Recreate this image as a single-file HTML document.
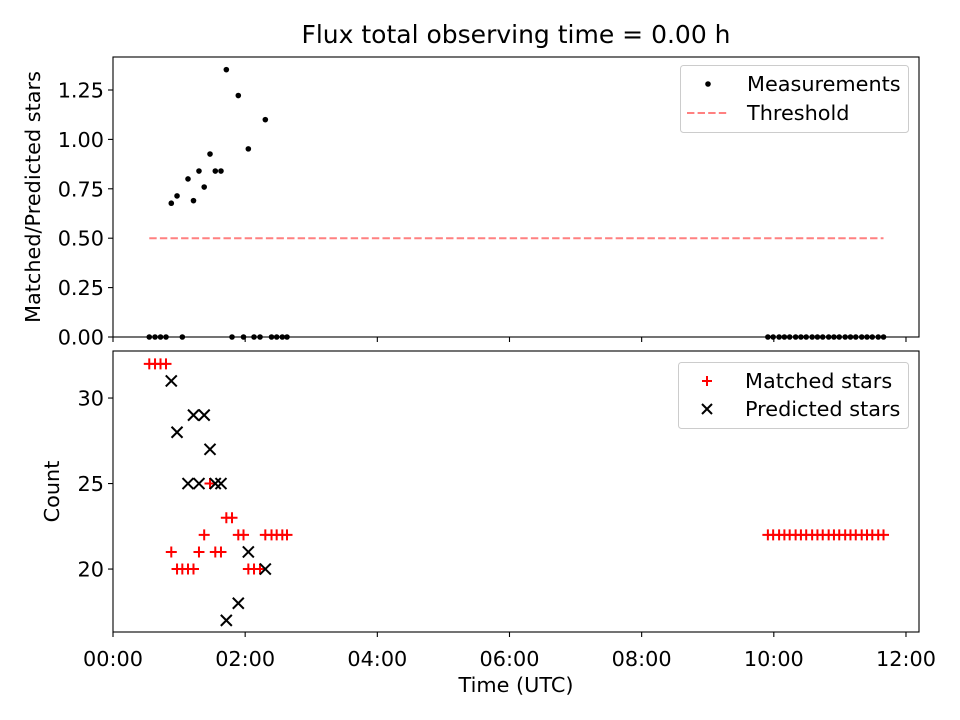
<!DOCTYPE html>
<html><head><meta charset="utf-8"><style>
body{margin:0;background:#fff}
svg{font-family:"DejaVu Sans","Liberation Sans",sans-serif;display:block}
</style></head><body>
<svg id="chart" width="960" height="720" viewBox="0 0 960 720">
<rect width="960" height="720" fill="#fff"/>
<text x="516" y="43" font-size="25" text-anchor="middle">Flux total observing time = 0.00 h</text>
<g id="topAxes"></g><g id="botAxes"></g>
</svg>
<script>
const times=[0.549,0.636,0.719,0.802,0.882,0.969,1.049,1.135,1.218,1.301,1.380,1.468,1.548,1.634,1.715,1.801,1.896,1.975,2.048,2.134,2.225,2.305,2.399,2.477,2.562,2.633,
9.91,9.99,10.08,10.16,10.24,10.33,10.41,10.49,10.58,10.66,10.74,10.83,10.91,10.99,11.08,11.16,11.24,11.33,11.41,11.49,11.58,11.66];
const matched=[32,32,32,32,21,20,20,20,20,21,22,25,21,21,23,23,22,22,20,20,20,22,22,22,22,22,
22,22,22,22,22,22,22,22,22,22,22,22,22,22,22,22,22,22,22,22,22,22];
const predicted=[null,null,null,null,31,28,null,25,29,25,29,27,25,25,17,null,18,null,21,null,null,20,null,null,null,null,
null,null,null,null,null,null,null,null,null,null,null,null,null,null,null,null,null,null,null,null,null,null];
const ratio=[0,0,0,0,0.677,0.714,0,0.80,0.69,0.84,0.759,0.926,0.84,0.84,1.353,0,1.222,0,0.952,0,0,1.10,0,0,0,0,
0,0,0,0,0,0,0,0,0,0,0,0,0,0,0,0,0,0,0,0,0,0];
const threshold=0.5;
const xTicks=[0,2,4,6,8,10,12];
const xTickLabels=["00:00","02:00","04:00","06:00","08:00","10:00","12:00"];
const topYTicks=[0,0.25,0.5,0.75,1.0,1.25];
const topYTickLabels=["0.00","0.25","0.50","0.75","1.00","1.25"];
const botYTicks=[20,25,30];
const botYTickLabels=["20","25","30"];

const NS="http://www.w3.org/2000/svg";
const FS=20.8;
const L=113,R=919;
const X=h=>L+(h-0)/(12.197-0)*(R-L);
const TT=57,TB=337,BT=351,BB=632;
const YT=v=>TB-(v-0)/(1.417-0)*(TB-TT);
const YB=v=>BB-(v-16.32)/(32.75-16.32)*(BB-BT);
function mk(tag,attrs,parent){const e=document.createElementNS(NS,tag);for(const k in attrs)e.setAttribute(k,attrs[k]);parent.appendChild(e);return e;}
const topG=document.getElementById('topAxes'),botG=document.getElementById('botAxes');

let tl=mk('line',{x1:X(times[0]),x2:X(times[times.length-1]),y1:YT(threshold),y2:YT(threshold),stroke:'#ff8080','stroke-width':2,'stroke-dasharray':'7.4,3.2'},topG);


times.forEach((t,i)=>{
 const c=mk('circle',{cx:X(t),cy:YT(ratio[i]),r:2.8,fill:'#000'},topG);
 
 
});
function plus(g,x,y,s){return mk('path',{d:`M${x-s} ${y}H${x+s}M${x} ${y-s}V${y+s}`,stroke:'#f00','stroke-width':2,fill:'none'},g);}
function cross(g,x,y,s){return mk('path',{d:`M${x-s} ${y-s}L${x+s} ${y+s}M${x-s} ${y+s}L${x+s} ${y-s}`,stroke:'#000','stroke-width':2,fill:'none'},g);}
times.forEach((t,i)=>{
 const p=plus(botG,X(t),YB(matched[i]),5.5);
 
 
});
times.forEach((t,i)=>{
 if(predicted[i]==null)return;
 const p=cross(botG,X(t),YB(predicted[i]),5.5);
 
 
});
function frame(g,y0,y1,name){const r=mk('rect',{x:L,y:y0,width:R-L,height:y1-y0,fill:'none',stroke:'#000','stroke-width':1.1},g);}
frame(topG,TT,TB,'top-axes-frame');frame(botG,BT,BB,'bottom-axes-frame');
xTicks.forEach((v,i)=>{
 mk('line',{x1:X(v),x2:X(v),y1:TB,y2:TB+5,stroke:'#000','stroke-width':1.1},topG);
 mk('line',{x1:X(v),x2:X(v),y1:BB,y2:BB+5,stroke:'#000','stroke-width':1.1},botG);
 const t=mk('text',{x:X(v),y:BB+34,'font-size':FS,'text-anchor':'middle'},botG);t.textContent=xTickLabels[i];
 
 
});
topYTicks.forEach((v,i)=>{
 mk('line',{x1:L-5,x2:L,y1:YT(v),y2:YT(v),stroke:'#000','stroke-width':1.1},topG);
 const t=mk('text',{x:L-9,y:YT(v)+7.5,'font-size':FS,'text-anchor':'end'},topG);t.textContent=topYTickLabels[i];
 
 
});
botYTicks.forEach((v,i)=>{
 mk('line',{x1:L-5,x2:L,y1:YB(v),y2:YB(v),stroke:'#000','stroke-width':1.1},botG);
 const t=mk('text',{x:L-9,y:YB(v)+7.5,'font-size':FS,'text-anchor':'end'},botG);t.textContent=botYTickLabels[i];
 
 
});
let a=mk('text',{x:516,y:692,'font-size':FS,'text-anchor':'middle'},botG);a.textContent='Time (UTC)';


a=mk('text',{x:0,y:0,'font-size':FS,'text-anchor':'middle',transform:`translate(40,${(TT+TB)/2}) rotate(-90)`},topG);a.textContent='Matched/Predicted stars';


a=mk('text',{x:0,y:0,'font-size':FS,'text-anchor':'middle',transform:`translate(59,${(BT+BB)/2}) rotate(-90)`},botG);a.textContent='Count';


let lg=mk('g',{},topG);


mk('rect',{x:680.5,y:65.5,width:228,height:67,rx:3,fill:'#fff','fill-opacity':0.8,stroke:'#ccc'},lg);
mk('circle',{cx:708,cy:84,r:2.8,fill:'#000'},lg);
let t=mk('text',{x:747,y:91,'font-size':FS},lg);t.textContent='Measurements';
mk('line',{x1:687,x2:729,y1:113,y2:113,stroke:'#ff8080','stroke-width':2,'stroke-dasharray':'7.4,3.2'},lg);
t=mk('text',{x:747,y:120,'font-size':FS},lg);t.textContent='Threshold';
lg=mk('g',{},botG);


mk('rect',{x:678.5,y:362.5,width:230,height:66,rx:3,fill:'#fff','fill-opacity':0.8,stroke:'#ccc'},lg);
plus(lg,707,381,5);
t=mk('text',{x:745,y:388,'font-size':FS},lg);t.textContent='Matched stars';
cross(lg,707,409,5);
t=mk('text',{x:745,y:416,'font-size':FS},lg);t.textContent='Predicted stars';
</script>
</body></html>
